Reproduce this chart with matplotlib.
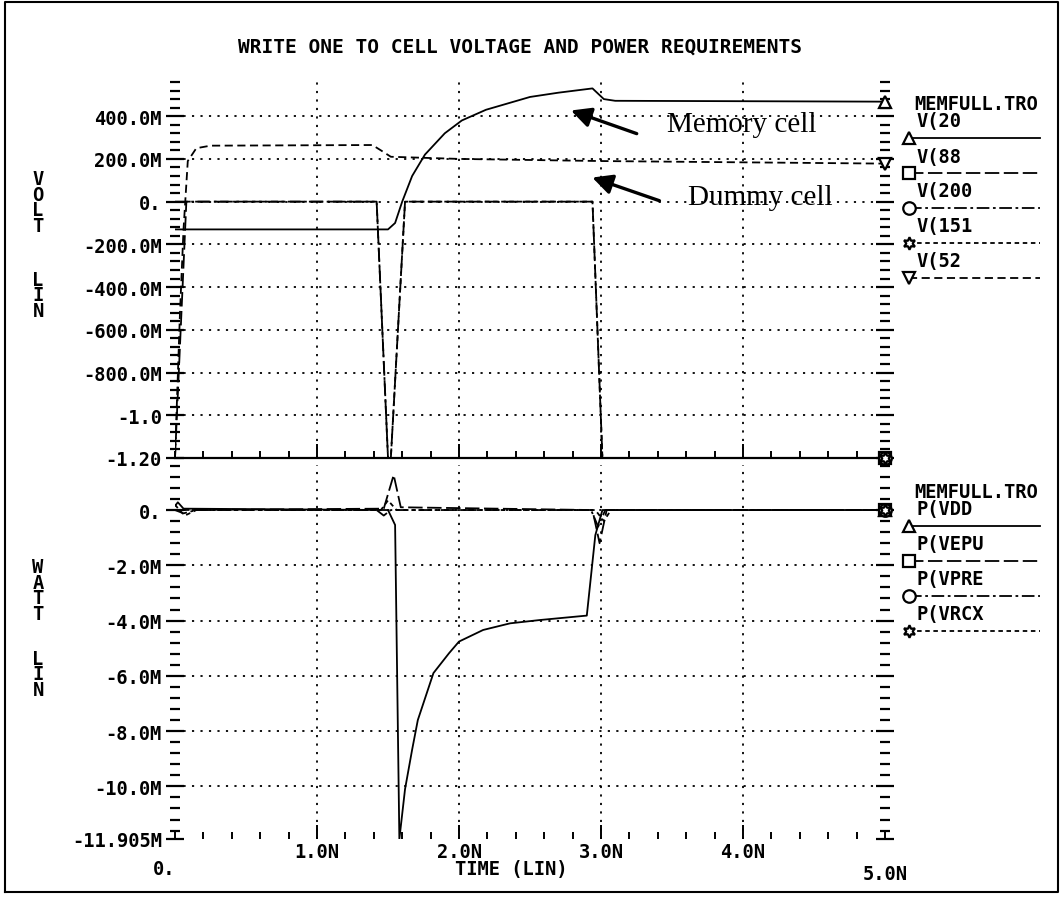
import matplotlib
matplotlib.use("Agg")
import matplotlib.pyplot as plt
import matplotlib.transforms as mtransforms
from matplotlib.ticker import FixedLocator, MultipleLocator

# ---- values: time in ns, voltage in V, power in mW ----
t_v20 = [0.0, 1.50, 1.55, 1.60, 1.67, 1.76, 1.90, 2.02, 2.19, 2.50, 2.70, 2.94, 3.02, 3.10, 5.0]
v20 = [-0.13, -0.13, -0.10, 0.0, 0.12, 0.22, 0.32, 0.38, 0.43, 0.49, 0.51, 0.53, 0.48, 0.472, 0.468]

t_v88 = [0.0, 0.08, 1.42, 1.50, 1.52, 1.62, 2.94, 3.01, 5.0]
v88 = [-1.2, 0.0, 0.0, -1.2, -1.2, 0.0, 0.0, -1.2, -1.2]

t_v200 = [0.0, 1.42, 1.50, 5.0]
v200 = [0.0, 0.0, -1.2, -1.2]

t_v151 = [0.0, 1.52, 1.62, 2.94, 3.01, 5.0]
v151 = [-1.2, -1.2, 0.0, 0.0, -1.2, -1.2]

t_v52 = [0.0, 0.035, 0.06, 0.09, 0.15, 0.25, 1.39, 1.45, 1.52, 2.0, 3.0, 5.0]
v52 = [-1.2, -0.52, -0.13, 0.19, 0.25, 0.262, 0.265, 0.24, 0.21, 0.20, 0.19, 0.178]

t_pvdd = [0.0, 0.02, 0.06, 1.50, 1.55, 1.58, 1.62, 1.67, 1.71, 1.82, 1.93, 2.00,
          2.17, 2.36, 2.57, 2.90, 2.96, 3.01, 5.0]
pvdd = [0.15, 0.28, 0.05, 0.0, -0.54, -11.905, -10.1, -8.67, -7.6, -5.9, -5.18, -4.76,
        -4.34, -4.1, -3.98, -3.82, -0.91, 0.0, 0.0]

t_pvepu = [0.0, 1.47, 1.54, 1.59, 2.94, 2.99, 3.04, 5.0]
pvepu = [0.0, 0.05, 1.27, 0.1, 0.0, -1.2, 0.0, 0.0]

t_pvpre = [0.0, 0.06, 0.15, 1.42, 1.47, 1.52, 2.93, 2.98, 3.03, 5.0]
pvpre = [0.0, -0.12, 0.0, 0.0, -0.2, 0.0, 0.0, -0.6, 0.0, 0.0]

t_pvrcx = [0.0, 0.03, 0.07, 0.15, 1.45, 1.50, 1.56, 2.96, 3.02, 3.07, 5.0]
pvrcx = [0.2, 0.0, -0.2, 0.0, 0.0, 0.35, 0.0, 0.0, -0.4, 0.0, 0.0]

v_ticks = [0.4, 0.2, 0.0, -0.2, -0.4, -0.6, -0.8, -1.0, -1.2]
v_tick_labels = ["400.0M", "200.0M", "0.", "-200.0M", "-400.0M", "-600.0M",
                 "-800.0M", "-1.0", "-1.20"]
p_ticks = [0.0, -2.0, -4.0, -6.0, -8.0, -10.0, -11.905]
p_tick_labels = ["0.", "-2.0M", "-4.0M", "-6.0M", "-8.0M", "-10.0M", "-11.905M"]
t_ticks = [1.0, 2.0, 3.0, 4.0]
t_tick_labels = ["1.0N", "2.0N", "3.0N", "4.0N"]

# ---- styles ----
MONO = dict(family="DejaVu Sans Mono", weight="bold", size=13.5)
LW = 1.3
LS_SOLID = "-"
LS_LONG = (0, (8, 2.5))
LS_DASHDOT = (0, (7, 2, 1.5, 2))
LS_SHORT = (0, (2.5, 2))
LS_MED = (0, (4.5, 2.5))
STAR6 = (6, 1, 0)

volt_series = [
    ("V(20", t_v20, v20, LS_SOLID, "^"),
    ("V(88", t_v88, v88, LS_LONG, "s"),
    ("V(200", t_v200, v200, LS_DASHDOT, "o"),
    ("V(151", t_v151, v151, LS_SHORT, STAR6),
    ("V(52", t_v52, v52, LS_MED, "v"),
]
watt_series = [
    ("P(VDD", t_pvdd, pvdd, LS_SOLID, "^"),
    ("P(VEPU", t_pvepu, pvepu, LS_LONG, "s"),
    ("P(VPRE", t_pvpre, pvpre, LS_DASHDOT, "o"),
    ("P(VRCX", t_pvrcx, pvrcx, LS_SHORT, STAR6),
]

W, H = 1063, 903
fig = plt.figure(figsize=(W / 100, H / 100), dpi=100)


def rect(x0, y0, x1, y1):
    return [x0 / W, 1 - y1 / H, (x1 - x0) / W, (y1 - y0) / H]


# overlay in pixel units for the page furniture (frame, title, legends)
ov = fig.add_axes([0, 0, 1, 1])
ov.set_xlim(0, W)
ov.set_ylim(H, 0)
ov.axis("off")

ax_v = fig.add_axes(rect(175, 83, 885, 459))
ax_p = fig.add_axes(rect(175, 466, 885, 840))


def style_axes(ax, ylim, yticks, ylabels, yminor, bottom_spine):
    ax.set_xlim(0, 5)
    ax.set_ylim(*ylim)
    for s in ["top", "left", "right"]:
        ax.spines[s].set_visible(False)
    ax.spines["bottom"].set_visible(bottom_spine)
    ax.spines["bottom"].set_linewidth(1.6)
    ax.xaxis.set_major_locator(FixedLocator(t_ticks))
    ax.xaxis.set_minor_locator(MultipleLocator(0.2))
    ax.yaxis.set_major_locator(FixedLocator(yticks))
    ax.yaxis.set_minor_locator(MultipleLocator(yminor))
    ax.set_yticklabels(ylabels, fontdict=MONO)
    ax.tick_params(axis="y", which="both", left=True, right=True,
                   direction="inout", width=1.6, pad=3)
    ax.tick_params(axis="y", which="major", length=13)
    ax.tick_params(axis="y", which="minor", length=7)
    ax.tick_params(axis="x", which="both", bottom=True, top=False,
                   direction="in", width=1.4, labelbottom=False)
    ax.tick_params(axis="x", which="major", length=10)
    ax.tick_params(axis="x", which="minor", length=5)
    ax.grid(True, which="major", color="black", linestyle=(0, (1.2, 3.5)), linewidth=1.3)
    ax.set_facecolor("none")


style_axes(ax_v, (-1.2, 0.56), v_ticks, v_tick_labels, 0.04, True)
style_axes(ax_p, (-11.905, 1.63), p_ticks, p_tick_labels, 0.4, False)
ax_v.get_ygridlines()[-1].set_visible(False)
ax_p.get_ygridlines()[-1].set_visible(False)

for ax, series in [(ax_v, volt_series), (ax_p, watt_series)]:
    for name, t, y, ls, mk in series:
        ax.plot(t, y, color="black", lw=LW, linestyle=ls)
        ax.plot(t[-1], y[-1], marker=mk, ms=9, mfc="white", mec="black",
                mew=1.6, clip_on=False, linestyle="none", zorder=5)

# x-axis labels under the power plot
xt = mtransforms.blended_transform_factory(ax_p.transData, ov.transData)
for tv, lab in zip(t_ticks, t_tick_labels):
    ax_p.text(tv, 853, lab, transform=xt, ha="center", va="center", **MONO)
ax_p.text(0.0, 870, "0.", transform=xt, ha="right", va="center", **MONO)
ax_p.text(5.0, 875, "5.0N", transform=xt, ha="center", va="center", **MONO)
ax_p.text(2.37, 870, "TIME (LIN)", transform=xt, ha="center", va="center", **MONO)

# title and stacked axis titles
ov.text(520, 47, "WRITE ONE TO CELL VOLTAGE AND POWER REQUIREMENTS",
        ha="center", va="center", **dict(MONO, size=14))
for word, yc in [("VOLT", 203), ("LIN", 296), ("WATT", 591), ("LIN", 675)]:
    ov.text(38, yc, "\n".join(word), ha="center", va="center",
            linespacing=0.78, **MONO)

# legends in the right margin
def draw_legend(entries, y_head):
    ov.text(914, y_head, "MEMFULL.TRO", ha="left", va="center", **MONO)
    for i, (name, t, y, ls, mk) in enumerate(entries):
        ly = y_head + 17 + 35 * i
        ov.text(916, ly, name, ha="left", va="center", **MONO)
        ov.plot([909, 1040], [ly + 17, ly + 17], color="black", lw=LW, linestyle=ls)
        ov.plot(909, ly + 17, marker=mk, ms=9, mfc="white", mec="black", mew=1.6)


draw_legend(volt_series, 105)
draw_legend(watt_series, 493)

# annotations
ax_v.annotate("", xy=(2.77, 0.431), xytext=(3.27, 0.314),
              arrowprops=dict(arrowstyle="-|>", color="black", lw=2.4, mutation_scale=30))
ax_v.text(3.99, 0.365, "Memory cell", ha="center", va="center",
          family="Liberation Serif", size=21)
ax_v.annotate("", xy=(2.92, 0.117), xytext=(3.43, 0.0),
              arrowprops=dict(arrowstyle="-|>", color="black", lw=2.4, mutation_scale=30))
ax_v.text(4.12, 0.023, "Dummy cell", ha="center", va="center",
          family="Liberation Serif", size=21)

# page frame
ov.plot([5, 5, 1058, 1058, 5], [893, 3, 3, 893, 893], color="black", lw=1.5)

fig.savefig("out.png", dpi=100)
